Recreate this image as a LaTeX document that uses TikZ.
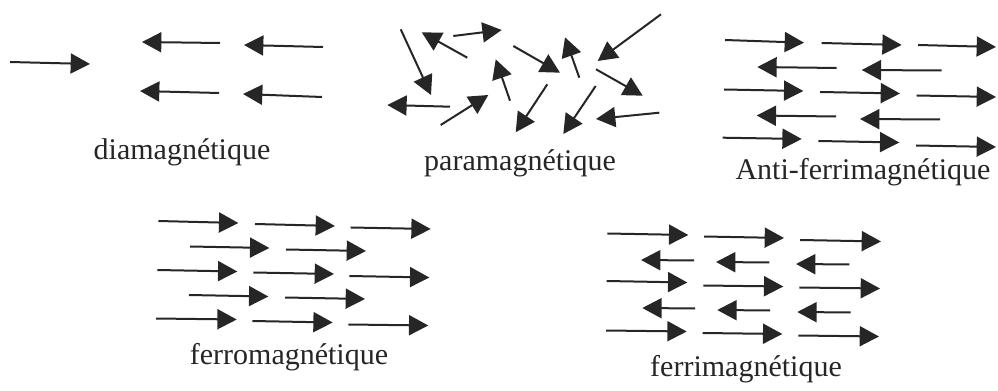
\documentclass[tikz,border=0pt]{standalone}
\usepackage{fontspec}
\setmainfont{Liberation Serif}
\usetikzlibrary{arrows.meta}
\begin{document}
\begin{tikzpicture}[x=0.75pt,y=-0.75pt,
  spin/.style={line width=1.5pt,draw=black!85,-{Triangle[length=14.5pt,width=15pt]}},
  lbl/.style={inner sep=0pt,text=black!85,font=\fontsize{22.5}{27}\selectfont}]
\useasboundingbox (0,0) rectangle (998,391);
% diamagnetique
\draw[spin] (10,62) -- (90,64);
\draw[spin] (220,43) -- (142,42);
\draw[spin] (323,47) -- (244,45);
\draw[spin] (219,93) -- (140,91);
\draw[spin] (322,97) -- (243,94);
\node[lbl] (dia) at (182,152) {diamagnétique};
% paramagnetique
\draw[spin] (400.7,29.3) -- (431,95);
\draw[spin] (467.3,57.7) -- (421.7,32.3);
\draw[spin] (453.3,36) -- (501.7,30);
\draw[spin] (513.3,46) -- (560,72.7);
\draw[spin] (579.3,77.7) -- (565,37.3);
\draw[spin] (661,14.3) -- (597.7,61);
\draw[spin] (596,69.3) -- (642.7,95.7);
\draw[spin] (450,106.7) -- (387.3,105);
\draw[spin] (440.7,125) -- (488.3,95);
\draw[spin] (510,100.7) -- (495.7,59.3);
\draw[spin] (547.3,84.3) -- (515.7,132.3);
\draw[spin] (595.7,86) -- (563.3,134);
\draw[spin] (659.3,112.7) -- (596,119);
\node[lbl] (para) at (520,163) {paramagnétique};
% anti-ferrimagnetique
\draw[spin] (725,40) -- (804,42.7);
\draw[spin] (821.7,43) -- (901.7,45);
\draw[spin] (918,45) -- (996,47);
\draw[spin] (836.7,68) -- (757.3,67);
\draw[spin] (941.7,70.5) -- (861.7,70);
\draw[spin] (724,89.5) -- (803.3,91);
\draw[spin] (820,92) -- (900,93.5);
\draw[spin] (916.7,95.5) -- (996,97);
\draw[spin] (836,116.5) -- (756.7,115.5);
\draw[spin] (940,119.5) -- (860,119);
\draw[spin] (722.7,137.7) -- (801.7,139);
\draw[spin] (818.3,141) -- (899.3,142.5);
\draw[spin] (916,145.5) -- (996,147);
\node[lbl] (anti) at (863,172) {Anti-ferrimagnétique};
% ferromagnetique
\draw[spin] (158.3,221) -- (238.3,223);
\draw[spin] (255,224) -- (335,226);
\draw[spin] (350.7,227.5) -- (430.7,229);
\draw[spin] (190,246.5) -- (269.3,248);
\draw[spin] (286,249.5) -- (366,251);
\draw[spin] (157.3,270) -- (237.3,271.5);
\draw[spin] (253.3,272.5) -- (334,274);
\draw[spin] (349.3,276) -- (429.3,277.5);
\draw[spin] (189,295) -- (268.3,296.5);
\draw[spin] (285,297.5) -- (365,299);
\draw[spin] (156,318.5) -- (236.7,319.5);
\draw[spin] (252.3,321) -- (332.7,322.5);
\draw[spin] (348.3,324.5) -- (428.3,325.5);
\node[lbl] (ferro) at (289,357) {ferromagnétique};
% ferrimagnetique
\draw[spin] (607.3,233.5) -- (688.3,235);
\draw[spin] (704,236.5) -- (784,238);
\draw[spin] (800,240) -- (881,241.5);
\draw[spin] (694,260.5) -- (641,260);
\draw[spin] (769.3,262.5) -- (716,262);
\draw[spin] (849.3,264.5) -- (796,264);
\draw[spin] (606.7,281) -- (687.3,282.5);
\draw[spin] (703.3,285.5) -- (783.3,286.5);
\draw[spin] (799.3,287.5) -- (880,288.5);
\draw[spin] (695,308.5) -- (642.3,308);
\draw[spin] (770,310.5) -- (717.3,310);
\draw[spin] (850.7,312.5) -- (797.3,312);
\draw[spin] (606,330.5) -- (686.7,331.5);
\draw[spin] (702.7,333) -- (782.3,334);
\draw[spin] (798.3,335.5) -- (879,336.5);
\node[lbl] (ferri) at (746,369) {ferrimagnétique};
\end{tikzpicture}
\end{document}
